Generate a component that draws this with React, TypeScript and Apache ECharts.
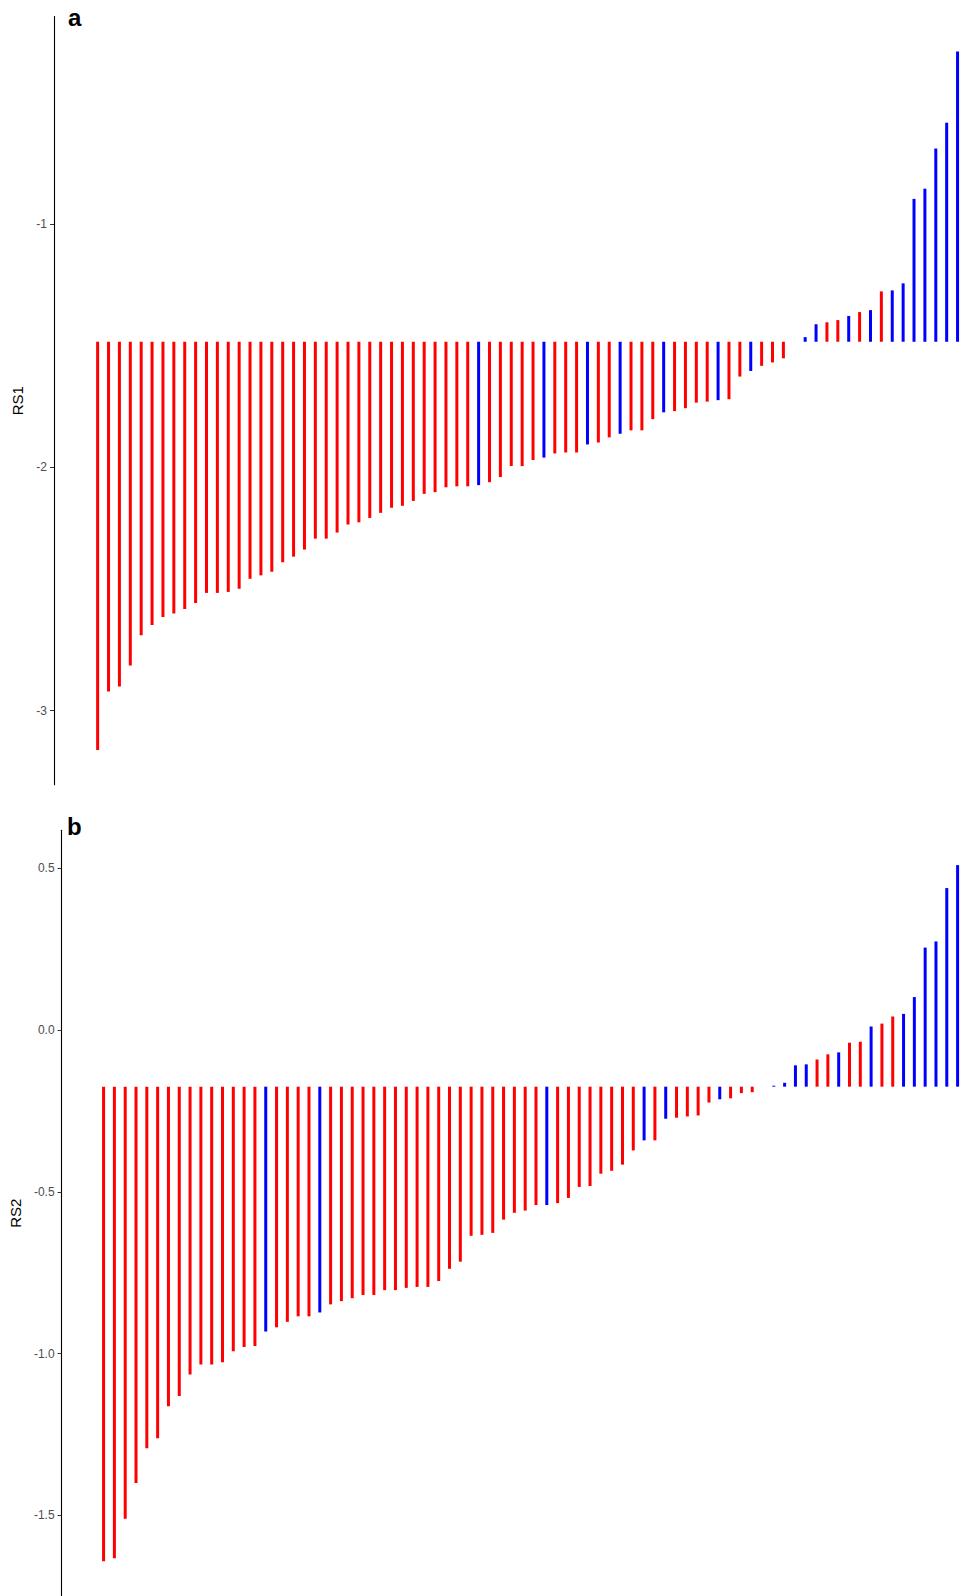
import React, { useEffect, useRef } from "react";
import * as echarts from "echarts";

// Panel a: RS1 values (sorted), reference level, group (R = red, B = blue)
const RS1_BASE = -1.484;
const RS1_VALUES = [
  -3.161, -2.921, -2.901, -2.814, -2.69, -2.648, -2.615, -2.601, -2.582, -2.557,
  -2.516, -2.516, -2.512, -2.499, -2.458, -2.444, -2.429, -2.39, -2.367, -2.338,
  -2.293, -2.293, -2.268, -2.235, -2.226, -2.208, -2.187, -2.166, -2.158, -2.138,
  -2.109, -2.102, -2.082, -2.078, -2.078, -2.073, -2.061, -2.04, -1.995, -1.995,
  -1.97, -1.96, -1.943, -1.939, -1.939, -1.906, -1.898, -1.877, -1.862, -1.848,
  -1.848, -1.802, -1.774, -1.769, -1.757, -1.734, -1.73, -1.724, -1.72, -1.627,
  -1.604, -1.583, -1.569, -1.552, -1.484, -1.465, -1.412, -1.404, -1.395, -1.378,
  -1.362, -1.354, -1.277, -1.273, -1.244, -0.897, -0.855, -0.69, -0.584, -0.291,
];
const RS1_GROUPS = [
  "R", "R", "R", "R", "R", "R", "R", "R", "R", "R",
  "R", "R", "R", "R", "R", "R", "R", "R", "R", "R",
  "R", "R", "R", "R", "R", "R", "R", "R", "R", "R",
  "R", "R", "R", "R", "R", "B", "R", "R", "R", "R",
  "R", "B", "R", "R", "R", "B", "R", "R", "B", "R",
  "R", "R", "B", "R", "R", "R", "R", "B", "R", "R",
  "B", "R", "R", "R", "R", "B", "B", "R", "R", "B",
  "R", "B", "R", "B", "B", "B", "B", "B", "B", "B",
];
const RS1_TICKS = [-3, -2, -1];

// Panel b: RS2 values (sorted), reference level, group
const RS2_BASE = -0.175;
const RS2_VALUES = [
  -1.642, -1.633, -1.511, -1.4, -1.293, -1.262, -1.163, -1.131, -1.065, -1.034,
  -1.034, -1.027, -0.993, -0.98, -0.977, -0.932, -0.919, -0.902, -0.885, -0.885,
  -0.873, -0.848, -0.838, -0.829, -0.819, -0.819, -0.804, -0.804, -0.797, -0.794,
  -0.794, -0.776, -0.738, -0.716, -0.636, -0.633, -0.627, -0.586, -0.565, -0.558,
  -0.541, -0.541, -0.535, -0.519, -0.485, -0.482, -0.444, -0.435, -0.416, -0.372,
  -0.341, -0.341, -0.274, -0.271, -0.267, -0.264, -0.224, -0.214, -0.211, -0.195,
  -0.192, -0.175, -0.172, -0.163, -0.109, -0.106, -0.091, -0.075, -0.069, -0.039,
  -0.036, 0.011, 0.02, 0.042, 0.05, 0.102, 0.255, 0.274, 0.439, 0.51,
];
const RS2_GROUPS = [
  "R", "R", "R", "R", "R", "R", "R", "R", "R", "R",
  "R", "R", "R", "R", "R", "B", "R", "R", "R", "R",
  "B", "R", "R", "R", "R", "R", "R", "R", "R", "R",
  "R", "R", "R", "R", "R", "R", "R", "R", "R", "R",
  "R", "B", "R", "R", "R", "R", "R", "R", "R", "R",
  "B", "R", "B", "R", "R", "R", "R", "B", "R", "R",
  "R", "R", "B", "B", "B", "B", "R", "R", "B", "R",
  "R", "B", "R", "R", "B", "B", "B", "B", "B", "B",
];
const RS2_TICKS = [-1.5, -1.0, -0.5, 0.0, 0.5];

const GROUP_COLORS: Record<string, string> = { R: "#FF0000", B: "#0000FF" };
const FONT = "'Liberation Sans', Arial, Helvetica, sans-serif";

function expanded(values: number[], base: number): [number, number] {
  const lo = Math.min(base, ...values);
  const hi = Math.max(base, ...values);
  const pad = (hi - lo) * 0.05;
  return [lo - pad, hi + pad];
}

function makeRenderItem(base: number) {
  return (params: any, api: any) => {
    const x = api.value(0);
    const v = api.value(1);
    const p0 = api.coord([x, base]);
    const p1 = api.coord([x, v]);
    const w = 3;
    return {
      type: "rect",
      shape: {
        x: p0[0] - w / 2,
        y: Math.min(p0[1], p1[1]),
        width: w,
        height: Math.abs(p1[1] - p0[1]),
      },
      style: { fill: api.visual("color") },
    };
  };
}

export default function App() {
  const ref = useRef<HTMLDivElement>(null);
  useEffect(() => {
    if (!ref.current) return;
    const chart = echarts.init(ref.current, undefined, { renderer: "svg" });
    const cats1 = RS1_VALUES.map((_, i) => String(i + 1));
    const cats2 = RS2_VALUES.map((_, i) => String(i + 1));
    const [a0, a1] = expanded(RS1_VALUES, RS1_BASE);
    const [b0, b1] = expanded(RS2_VALUES, RS2_BASE);

    const yAxisCommon = (name: string, ticks: number[], fmt: (v: number) => string) => ({
      type: "value",
      name,
      nameLocation: "middle",
      nameRotate: 90,
      nameGap: 26,
      nameTextStyle: { color: "#000", fontSize: 15, fontFamily: FONT },
      axisLine: { show: true, onZero: false, lineStyle: { color: "#000", width: 1.1 } },
      axisTick: { show: true, length: 4, customValues: ticks, lineStyle: { color: "#333333", width: 1 } },
      axisLabel: {
        show: true,
        customValues: ticks,
        margin: 7,
        color: "#4D4D4D",
        fontSize: 12,
        fontFamily: FONT,
        formatter: (v: number) => fmt(v),
      },
      splitLine: { show: false },
    });

    chart.setOption({
      animation: false,
      backgroundColor: "#FFFFFF",
      grid: [
        { left: 92.2, width: 876.8, top: 16.5, height: 768.3 },
        { left: 97.3, width: 868.6, top: 830.3, height: 766.8 },
      ],
      xAxis: [
        { type: "category", gridIndex: 0, data: cats1, show: false },
        { type: "category", gridIndex: 1, data: cats2, show: false },
      ],
      yAxis: [
        {
          ...yAxisCommon("RS1", RS1_TICKS, (v) => String(Math.round(v))),
          gridIndex: 0,
          min: a0,
          max: a1,
          offset: 38.2,
        },
        {
          ...yAxisCommon("RS2", RS2_TICKS, (v) => v.toFixed(1)),
          gridIndex: 1,
          min: b0,
          max: b1,
          offset: 36.6,
        },
      ],
      graphic: [
        {
          type: "text",
          left: 68,
          top: 5,
          style: { text: "a", fontSize: 24, fontWeight: "bold", fill: "#000", fontFamily: FONT },
        },
        {
          type: "text",
          left: 67,
          top: 814,
          style: { text: "b", fontSize: 24, fontWeight: "bold", fill: "#000", fontFamily: FONT },
        },
      ],
      series: [
        {
          type: "custom",
          xAxisIndex: 0,
          yAxisIndex: 0,
          renderItem: makeRenderItem(RS1_BASE),
          data: RS1_VALUES.map((v, i) => ({
            value: [i, v],
            itemStyle: { color: GROUP_COLORS[RS1_GROUPS[i]] },
          })),
        },
        {
          type: "custom",
          xAxisIndex: 1,
          yAxisIndex: 1,
          renderItem: makeRenderItem(RS2_BASE),
          data: RS2_VALUES.map((v, i) => ({
            value: [i, v],
            itemStyle: { color: GROUP_COLORS[RS2_GROUPS[i]] },
          })),
        },
      ],
    });
    return () => chart.dispose();
  }, []);

  return (
    <div
      style={{
        position: "fixed",
        left: 0,
        top: 0,
        width: 963,
        height: 1596,
        overflow: "hidden",
        background: "#fff",
      }}
    >
      <div ref={ref} style={{ width: 963, height: 1596 }} />
    </div>
  );
}
